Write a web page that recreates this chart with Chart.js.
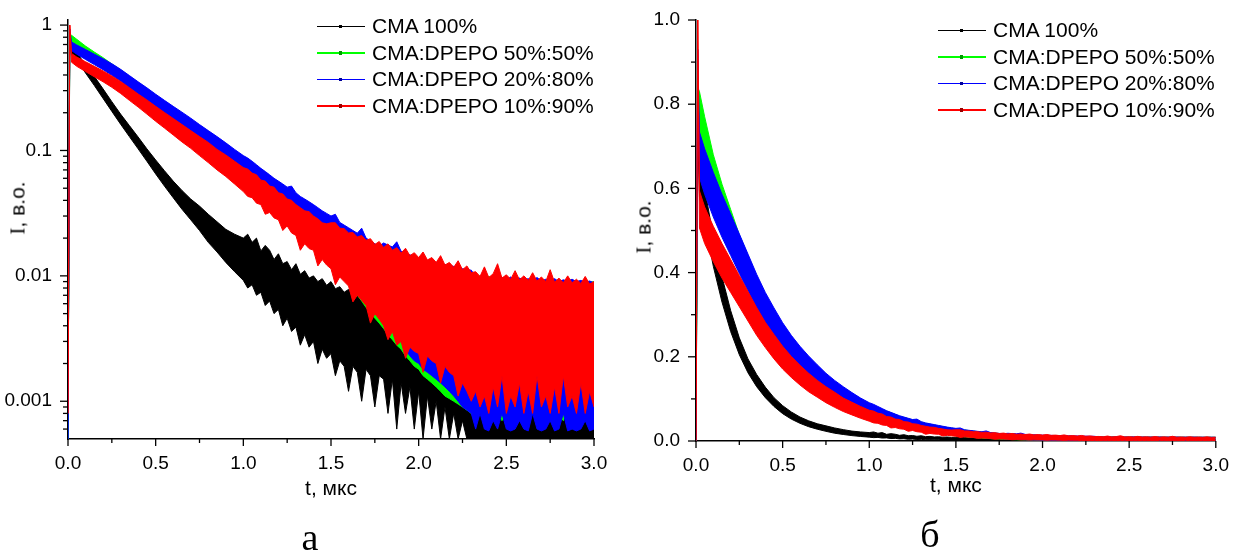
<!DOCTYPE html>
<html>
<head>
<meta charset="utf-8">
<script src="https://cdn.jsdelivr.net/npm/chart.js@4.4.1/dist/chart.umd.min.js"></script>
<style>
 body{margin:0;background:#fff;width:1234px;height:556px;position:relative;overflow:hidden;font-family:'Liberation Sans',Arial,sans-serif;color:#000}
 canvas{position:absolute;top:0}
 #logChart{left:0}
 #linChart{left:620px}
 .lg{position:absolute;font-size:21px}
 .lg div{height:26.5px;display:flex;align-items:center;white-space:nowrap}
 .lg i{display:inline-block;width:48px;height:1.5px;margin-right:7px;position:relative}
 .lg i b{position:absolute;left:22px;top:-1px;width:3px;height:3.5px;background:inherit;filter:brightness(.6)}
 .yt{position:absolute;transform:translate(-50%,-50%) rotate(-90deg);font-size:21px;white-space:nowrap}
 .yt span{font-family:'Liberation Serif',serif}
 .cap{position:absolute;font-family:'Liberation Serif',serif;font-size:38px;transform:translateX(-50%)}
</style>
</head>
<body>
<canvas id="logChart" width="620" height="556"></canvas>
<canvas id="linChart" width="614" height="556"></canvas>
<div class="lg" id="lgA" style="left:317px;top:13px"></div>
<div class="lg" id="lgB" style="left:938px;top:17px"></div>
<div class="yt" style="left:18px;top:208px"><span>I</span>, в.о.</div>
<div class="yt" style="left:644px;top:227px"><span>I</span>, в.о.</div>
<div class="cap" style="left:310px;top:515px">а</div>
<div class="cap" style="left:930px;top:512px">б</div>
<script>
// time, мкс (coarse up to 1 мкс, finer in the noisy tail)
const tGrid=[0,0.01,0.02,0.05,0.1,0.15,0.2,0.25,0.3,0.35,0.4,0.45,0.5,0.55,0.6,0.65,0.7,0.75,0.8,0.85,0.9,0.95,
 1,1.025,1.05,1.075,1.1,1.125,1.15,1.175,1.2,1.225,1.25,1.275,1.3,1.325,1.35,1.375,1.4,1.425,1.45,1.475,1.5,1.525,1.55,1.575,1.6,1.625,1.65,1.675,1.7,1.725,1.75,1.775,1.8,1.825,1.85,1.875,1.9,1.925,1.95,1.975,
 2,2.025,2.05,2.075,2.1,2.125,2.15,2.175,2.2,2.225,2.25,2.275,2.3,2.325,2.35,2.375,2.4,2.425,2.45,2.475,2.5,2.525,2.55,2.575,2.6,2.625,2.65,2.675,2.7,2.725,2.75,2.775,2.8,2.825,2.85,2.875,2.9,2.925,2.95,2.975,3];

// upper / lower edge of each noisy trace
const cmaHi=[0.0005,0.73,0.67,0.60,0.485,0.39,0.31,0.245,0.195,0.158,0.128,0.103,0.084,0.069,0.057,0.048,0.041,0.036,0.031,0.027,0.0235,0.0215,
 0.0200,0.0215,0.0185,0.0200,0.0158,0.0175,0.0160,0.0135,0.0150,0.0125,0.0130,0.0112,0.0125,0.0103,0.0110,0.0096,0.0100,0.0090,0.0095,0.0084,
 0.0090,0.0079,0.0082,0.0074,0.0078,0.0070,0.0073,0.0066,0.0070,0.0063,0.0066,0.0060,0.0063,0.0057,0.0060,0.0055,0.0057,0.0052,0.0055,0.0050,
 0.0052,0.0049,0.0050,0.0047,0.0048,0.0046,0.0047,0.0045,0.0046,0.0044,0.0045,0.0043,0.0044,0.0042,0.0043,0.0042,0.0042,0.0041,0.0042,0.0040,
 0.0041,0.0040,0.0040,0.0039,0.0040,0.0038,0.0039,0.0038,0.0038,0.0037,0.0038,0.0037,0.0037,0.0036,0.0037,0.0036,0.0036,0.0035,0.0036,0.0035,0.0035];
const cmaLo=[0.0005,0.73,0.58,0.52,0.415,0.33,0.26,0.205,0.162,0.129,0.103,0.082,0.065,0.052,0.042,0.034,0.028,0.023,0.0185,0.0155,0.0128,0.0108,
 0.0092,0.0080,0.0085,0.0070,0.0074,0.0058,0.0063,0.0050,0.0054,0.0040,0.0046,0.0036,0.0039,0.0028,0.0034,0.0027,0.0030,0.0020,0.0026,0.0022,
 0.0024,0.0016,0.0021,0.0019,0.0012,0.0019,0.0017,0.0010,0.0018,0.0016,0.0009,0.0016,0.0015,0.0008,0.0015,0.0006,0.0014,0.0008,0.0013,0.0006,
 0.0012,0.0005,0.0011,0.0006,0.0010,0.0005,0.0009,0.0005,0.0008,0.0005,0.0007,0.0005,0.0005,0.0005,0.0005,0.0005,0.0005,0.0005,0.0005,0.0005,
 0.0005,0.0005,0.0005,0.0005,0.0005,0.0005,0.0005,0.0005,0.0005,0.0005,0.0005,0.0005,0.0005,0.0005,0.0005,0.0005,0.0005,0.0005,0.0005,0.0005,0.0005];
const g50Hi=[0.0005,0.84,0.83,0.77,0.68,0.61,0.55,0.49,0.44,0.39,0.348,0.31,0.276,0.246,0.22,0.197,0.177,0.158,0.141,0.126,0.113,0.100,
 0.089,0.084,0.080,0.075,0.071,0.067,0.063,0.059,0.056,0.053,0.050,0.047,0.045,0.042,0.040,0.038,0.036,0.034,0.032,0.0305,
 0.029,0.0275,0.026,0.0248,0.0235,0.0224,0.0213,0.0204,0.0195,0.0186,0.0178,0.0171,0.0165,0.0159,0.0153,0.0148,0.0143,0.0138,0.0134,0.0130,
 0.0127,0.0124,0.0121,0.0118,0.0116,0.0113,0.0111,0.0109,0.0107,0.0105,0.0103,0.0101,0.0100,
 0.0098,0.0100,0.0097,0.0099,0.0096,0.0098,0.0095,0.0097,0.0094,0.0096,0.0093,0.0095,0.0093,0.0094,0.0092,0.0094,0.0091,0.0093,0.0091,0.0092,0.0090,0.0092,0.0090,0.0091,0.0089,0.0091,0.0089,0.0090];
const g50Lo=[0.0005,0.84,0.73,0.68,0.60,0.535,0.475,0.42,0.37,0.325,0.285,0.25,0.219,0.192,0.17,0.149,0.131,0.116,0.101,0.088,0.078,0.068,
 0.059,0.055,0.052,0.048,0.045,0.042,0.039,0.036,0.034,0.031,0.029,0.027,0.025,0.023,0.021,0.0195,0.018,0.0165,0.015,0.0137,
 0.0125,0.0114,0.0104,0.0095,0.0086,0.0078,0.0070,0.0063,0.0056,0.0051,0.0046,0.0042,0.0038,0.0034,0.0031,0.0028,0.0026,0.0023,0.0021,0.0019,
 0.0018,0.0016,0.0015,0.0014,0.0013,0.0012,0.0011,0.00105,0.0010,0.00095,0.0009,0.00085,0.0008,
 0.0007,0.0009,0.0007,0.0008,0.0007,0.0010,0.0007,0.0008,0.0007,0.0009,0.0007,0.0008,0.0007,0.0010,0.0007,0.0008,0.0007,0.0009,0.0007,0.0008,0.0007,0.0009,0.0007,0.0008,0.0007,0.0010,0.0007,0.0008];
const b20Hi=[0.0005,0.93,0.734,0.694,0.638,0.586,0.539,0.492,0.444,0.396,0.353,0.316,0.281,0.251,0.225,0.202,0.181,0.161,0.144,0.129,0.115,0.102,
 0.091,0.087,0.082,0.077,0.072,0.068,0.064,0.060,0.057,0.054,0.051,0.052,0.046,0.043,0.041,0.039,0.037,0.035,0.033,0.0315,
 0.030,0.031,0.0267,0.0254,0.0242,0.023,0.0219,0.024,0.020,0.019,0.018,0.0173,0.0183,0.0176,0.0170,0.0187,0.0157,0.0151,0.0147,0.0142,
 0.0139,0.0135,0.0133,0.0130,0.0128,0.0125,0.0123,0.0121,0.0119,0.0117,0.0114,0.0112,0.0111,
 0.0099,0.0096,0.0100,0.0095,0.0098,0.0094,0.0097,0.0093,0.0098,0.0092,0.0096,0.0093,0.0095,0.0092,0.0097,0.0091,0.0094,0.0092,0.0095,0.0090,0.0093,0.0091,0.0094,0.0090,0.0092,0.0089,0.0091,0.0088];
const b20Lo=[0.0005,0.93,0.626,0.586,0.532,0.484,0.441,0.398,0.356,0.314,0.277,0.244,0.215,0.189,0.167,0.146,0.129,0.115,0.100,0.087,0.077,0.068,
 0.059,0.055,0.052,0.049,0.046,0.043,0.040,0.037,0.035,0.033,0.031,0.0285,0.026,0.0245,0.023,0.0215,0.020,0.0185,0.017,0.0156,
 0.0143,0.0133,0.0123,0.0113,0.0104,0.0095,0.0087,0.0079,0.0072,0.0066,0.0060,0.0054,0.0048,0.0043,0.0038,0.0034,0.0030,0.0026,0.0023,0.0021,
 0.0020,0.0018,0.0017,0.0016,0.0015,0.0014,0.0013,0.0012,0.0011,0.0010,0.0009,0.00085,0.0008,
 0.0006,0.0008,0.0006,0.00058,0.0007,0.0006,0.0008,0.0006,0.00058,0.0006,0.0007,0.0006,0.00058,0.0008,0.0006,0.00058,0.0006,0.0007,0.00058,0.0006,0.0008,0.00058,0.0006,0.00058,0.0006,0.0007,0.00058,0.0006];
const r10Hi=[0.0008,1.0,0.594,0.556,0.51,0.469,0.431,0.393,0.355,0.317,0.282,0.253,0.225,0.201,0.180,0.161,0.144,0.129,0.116,0.102,0.092,0.082,
 0.073,0.071,0.066,0.064,0.058,0.057,0.052,0.051,0.046,0.045,0.041,0.040,0.037,0.035,0.033,0.0325,0.030,0.0285,0.0265,0.026,
 0.0265,0.0265,0.0240,0.0238,0.0220,0.0222,0.0204,0.0210,0.0192,0.0198,0.0178,0.0188,0.0168,0.0180,0.0160,0.0168,0.0152,0.0166,0.0145,0.0153,
 0.0140,0.0155,0.0134,0.0140,0.0128,0.0145,0.0122,0.0128,0.0117,0.0132,0.0112,0.0120,0.0106,0.0108,0.0099,0.0118,0.0097,0.0104,0.0125,0.0096,
 0.0102,0.0094,0.0110,0.0093,0.0100,0.0092,0.0106,0.0091,0.0098,0.0090,0.0112,0.0089,0.0096,0.0088,0.0100,0.0088,0.0094,0.0087,0.0099,0.0086,0.0090];
const r10Lo=[0.0008,1.0,0.506,0.469,0.426,0.387,0.353,0.319,0.285,0.251,0.222,0.195,0.171,0.151,0.133,0.117,0.104,0.091,0.080,0.070,0.062,0.054,
 0.047,0.043,0.042,0.038,0.037,0.031,0.032,0.029,0.028,0.023,0.025,0.022,0.021,0.016,0.018,0.0165,0.016,0.012,0.0135,0.0122,
 0.0114,0.0085,0.0098,0.0090,0.0083,0.0062,0.0070,0.0064,0.0058,0.0042,0.0050,0.0045,0.0040,0.0031,0.0036,0.0028,0.0030,0.0022,0.0027,0.0025,
 0.0024,0.0017,0.0023,0.0021,0.0020,0.0014,0.0019,0.0017,0.0016,0.0011,0.0014,0.0012,0.0010,0.0012,0.0009,0.0011,0.0008,0.0013,0.0009,0.0016,
 0.0008,0.0011,0.0009,0.0014,0.0008,0.0012,0.0008,0.0016,0.0009,0.0011,0.0008,0.0013,0.0008,0.0016,0.0009,0.0011,0.0008,0.0014,0.0008,0.0012,0.0009];

const seriesNames=['CMA 100%','CMA:DPEPO 50%:50%','CMA:DPEPO 20%:80%','CMA:DPEPO 10%:90%'];
const seriesColors=['#000000','#00ff00','#0000ff','#ff0000'];
const xTickLabels=['0.0','0.5','1.0','1.5','2.0','2.5','3.0'];
const logTickLabels=['0.001','0.01','0.1','1'];
const linTickLabels=['0.0','0.2','0.4','0.6','0.8','1.0'];

const hiSets=[cmaHi,g50Hi,b20Hi,r10Hi], loSets=[cmaLo,g50Lo,b20Lo,r10Lo];
hiSets.concat(loSets).forEach((a,i)=>{if(a.length!==tGrid.length)console.error('length mismatch',i,a.length,tGrid.length);});
const near=(a,b)=>Math.abs(a-b)<1e-6;

function bands(){
 const out=[];
 seriesNames.forEach((n,i)=>{
  const c=seriesColors[i];
  // lower edge first, upper edge fills down to it
  out.push({label:n+'_lo',data:tGrid.map((t,k)=>({x:t,y:loSets[i][k]})),borderColor:c,borderWidth:1,pointRadius:0,fill:false,order:4-i});
  out.push({label:n,data:tGrid.map((t,k)=>({x:t,y:hiSets[i][k]})),borderColor:c,backgroundColor:c,borderWidth:1,pointRadius:0,fill:'-1',order:4-i});
 });
 return out;
}

// tick marks outside the frame, long for labelled ticks, short for the rest
const outTicks={
 id:'outTicks',
 afterDraw(chart){
  const {ctx,chartArea:a,scales:{x,y}}=chart;
  ctx.save();ctx.strokeStyle='#000';ctx.lineWidth=1.3;
  const seg=(x1,y1,x2,y2)=>{ctx.beginPath();ctx.moveTo(x1,y1);ctx.lineTo(x2,y2);ctx.stroke();};
  x.ticks.forEach(t=>{const p=x.getPixelForValue(t.value);seg(p,a.bottom,p,a.bottom+(near(t.value*2,Math.round(t.value*2))?7:4));});
  y.ticks.forEach(t=>{
   const v=t.value;let major;
   if(y.type==='logarithmic'){
    if(v<=y.min*1.001||v>y.max)return;
    const s=v/Math.pow(10,Math.floor(Math.log10(v)+1e-9));
    if(!near(s,Math.round(s)))return;
    major=near(s,1);
   }else major=near(v*5,Math.round(v*5));
   const p=y.getPixelForValue(v);seg(a.left-(major?8:5),p,a.left,p);
  });
  ctx.restore();
 }
};

function xScale(titlePad){
 return {type:'linear',min:0,max:3,
  ticks:{stepSize:0.25,autoSkip:false,maxRotation:0,padding:5,color:'#000',font:{size:19},
   callback:v=>near(v*2,Math.round(v*2))?xTickLabels[Math.round(v*2)]:''},
  grid:{display:false,drawTicks:true,tickLength:8},
  border:{display:true,color:'#000',width:1.5},
  title:{display:true,text:'t, мкс',color:'#000',font:{size:21},padding:{top:0,bottom:titlePad}}};
}

Chart.defaults.font.family="'Liberation Sans', Arial, sans-serif";
Chart.defaults.animation=false;

new Chart(document.getElementById('logChart'),{
 type:'line',
 data:{datasets:bands()},
 options:{responsive:false,
  layout:{padding:{left:0,top:15,right:26,bottom:0}},
  plugins:{legend:{display:false},tooltip:{enabled:false}},
  scales:{
   x:Object.assign(xScale(54),{afterFit:s=>{s.height=117;}}),
   y:{type:'logarithmic',min:0.0005,max:1.11,
    ticks:{autoSkip:false,padding:8,color:'#000',font:{size:19},
     callback:v=>{const l=Math.log10(v);return near(l,Math.round(l))?(logTickLabels[Math.round(l)+3]||''):'';}},
    grid:{display:false,drawTicks:true,tickLength:8},
    border:{display:true,color:'#000',width:1.5},
    afterFit:s=>{s.width=68;}}
  }},
 plugins:[outTicks]
});

new Chart(document.getElementById('linChart'),{
 type:'line',
 data:{datasets:bands()},
 options:{responsive:false,
  layout:{padding:{left:0,top:20,right:15,bottom:0}},
  plugins:{legend:{display:false},tooltip:{enabled:false}},
  scales:{
   x:Object.assign(xScale(57),{afterFit:s=>{s.height=115;}}),
   y:{type:'linear',min:0,max:1,
    ticks:{stepSize:0.1,autoSkip:false,padding:8,color:'#000',font:{size:19},
     callback:v=>near(v*5,Math.round(v*5))?linTickLabels[Math.round(v*5)]:''},
    grid:{display:false,drawTicks:true,tickLength:8},
    border:{display:true,color:'#000',width:1.5},
    afterFit:s=>{s.width=76;}}
  }},
 plugins:[outTicks]
});

// legends
['lgA','lgB'].forEach(id=>{
 const box=document.getElementById(id);
 seriesNames.forEach((n,i)=>{
  const row=document.createElement('div');
  row.innerHTML=`<i style="background:${seriesColors[i]}"><b></b></i>${n}`;
  box.appendChild(row);
 });
});
</script>
</body>
</html>
